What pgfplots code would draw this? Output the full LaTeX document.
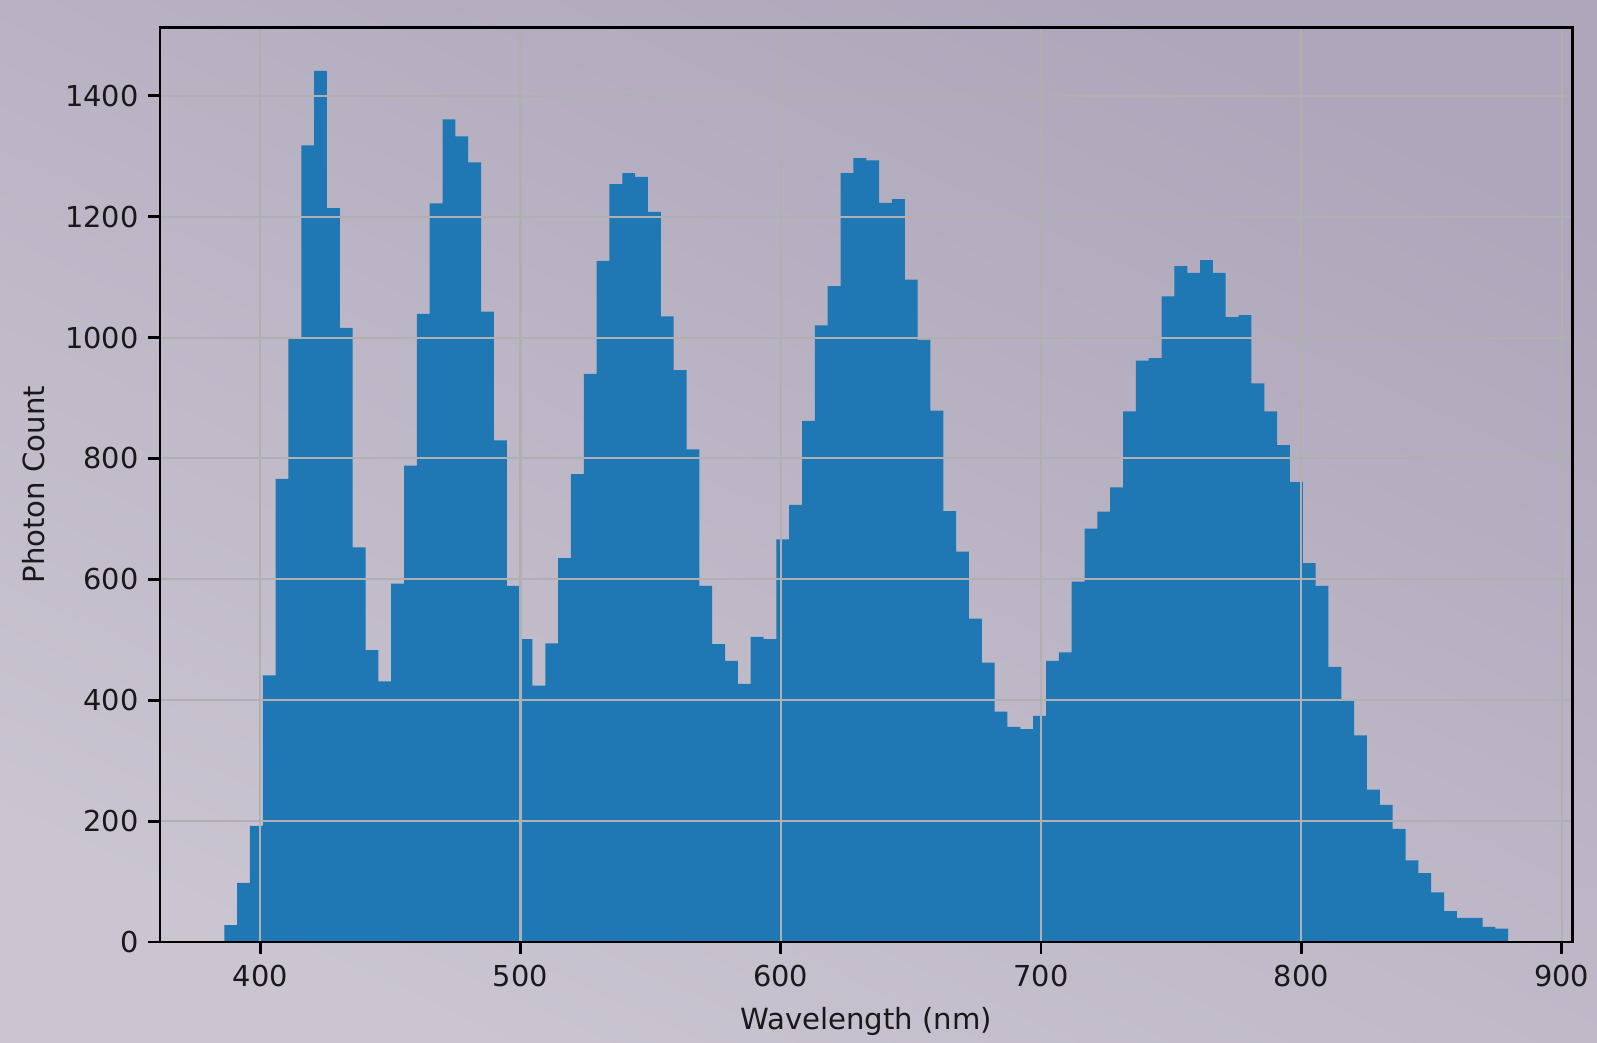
\documentclass[border=0pt]{standalone}
\usepackage{fontspec}
\setmainfont{DejaVu Sans}
\usepackage{pgfplots}
\pgfplotsset{compat=1.18}
\definecolor{tabblue}{RGB}{31,119,180}
\definecolor{bgtop}{RGB}{174,166,186}
\definecolor{bgbot}{RGB}{202,197,209}
\definecolor{gridc}{RGB}{176,176,176}
\definecolor{txt}{RGB}{25,25,25}
\begin{document}
\begin{tikzpicture}
\shade[top color=bgtop, bottom color=bgbot, shading angle=-25] (0,0) rectangle (15.97cm,10.43cm);
\begin{axis}[
  at={(1.60cm,1.01cm)}, anchor=south west,
  scale only axis, width=14.125cm, height=9.145cm,
  xmin=361.5, xmax=904.2, ymin=0, ymax=1513,
  xtick={400,500,...,900}, ytick={0,200,...,1400},
  grid=major, major grid style={gridc, line width=0.6pt},
  axis on top, axis line style={black, line width=0.8pt},
  tick align=outside, xtick pos=bottom, ytick pos=left,
  major tick length=0.12cm, tick style={black, line width=0.8pt},
  /pgf/number format/assume math mode=true,
  /pgf/number format/1000 sep={},
  ticklabel style={font=\fontsize{8.2}{10}\selectfont, text=txt},
  xticklabel style={yshift=0.01cm},
  yticklabel style={xshift=0.03cm},
  label style={font=\fontsize{8.3}{10}\selectfont, text=txt},
  xlabel={Wavelength (nm)}, ylabel={Photon Count},
  xlabel style={at={(axis description cs:0.5,-0.087)}, anchor=center},
  ylabel style={at={(axis description cs:-0.0895,0.5)}, anchor=center},
]
\addplot[ybar interval, fill=tabblue, draw=none] coordinates {
(386.20,28) (391.13,98) (396.07,192) (401.00,441) (405.93,766)
(410.87,1000) (415.80,1318) (420.73,1441) (425.66,1214) (430.60,1016)
(435.53,653) (440.46,483) (445.40,431) (450.33,593) (455.26,788)
(460.20,1039) (465.13,1222) (470.06,1361) (474.99,1333) (479.93,1290)
(484.86,1043) (489.79,830) (494.73,589) (499.66,501) (504.59,424)
(509.53,494) (514.46,635) (519.39,774) (524.32,940) (529.26,1127)
(534.19,1254) (539.12,1272) (544.06,1266) (548.99,1208) (553.92,1035)
(558.86,946) (563.79,815) (568.72,589) (573.65,493) (578.59,465)
(583.52,427) (588.45,505) (593.39,501) (598.32,666) (603.25,723)
(608.19,862) (613.12,1020) (618.05,1085) (622.98,1272) (627.92,1297)
(632.85,1293) (637.78,1223) (642.72,1229) (647.65,1096) (652.58,996)
(657.52,879) (662.45,713) (667.38,646) (672.31,535) (677.25,462)
(682.18,381) (687.11,356) (692.05,352) (696.98,374) (701.91,465)
(706.85,479) (711.78,596) (716.71,684) (721.64,712) (726.58,752)
(731.51,878) (736.44,962) (741.38,966) (746.31,1068) (751.24,1118)
(756.18,1107) (761.11,1128) (766.04,1107) (770.97,1034) (775.91,1037)
(780.84,924) (785.77,878) (790.71,822) (795.64,761) (800.57,627)
(805.51,589) (810.44,455) (815.37,399) (820.30,342) (825.24,252)
(830.17,227) (835.10,187) (840.04,135) (844.97,114) (849.90,82)
(854.84,51) (859.77,40) (864.70,40) (869.63,25) (874.57,22)
(879.50,22)
};
\end{axis}
\pgfresetboundingbox
\useasboundingbox (0,0) rectangle (15.97cm,10.43cm);
\end{tikzpicture}
\end{document}
